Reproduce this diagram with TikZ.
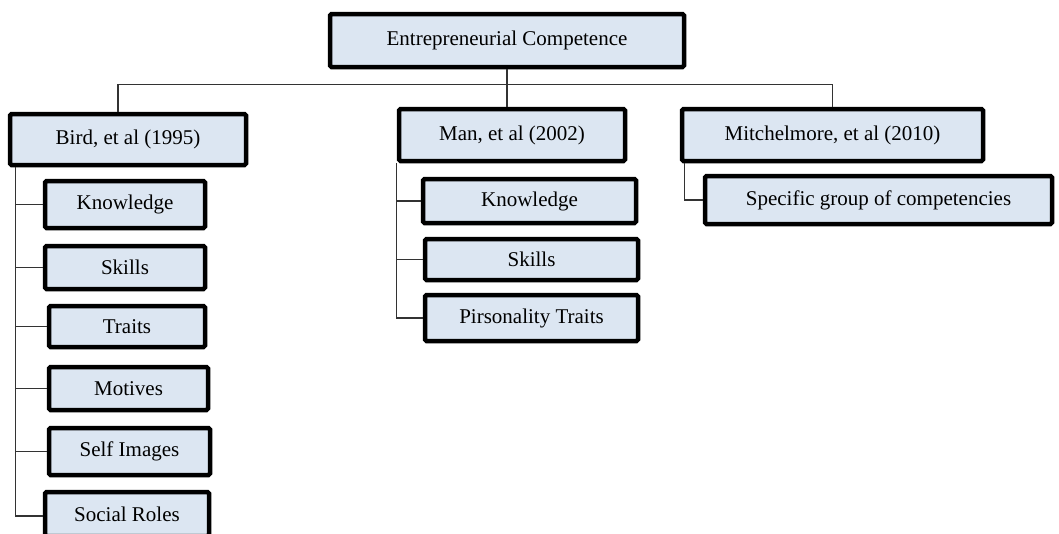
\documentclass[tikz,border=0pt]{standalone}
\usepackage{fontspec}
\setmainfont{Liberation Serif}
\usepackage{xcolor}
\usepackage{tikz}
\usetikzlibrary{positioning, calc}
\definecolor{boxblue}{RGB}{220,230,242}
\tikzstyle{cbox} = [rectangle, draw=black, line width=4.5pt, rounded corners=1.5pt, fill=boxblue, inner sep=0pt, text centered, font=\fontsize{21}{24}\selectfont]
\tikzstyle{link} = [line width=1.3pt, draw=black!80]

\begin{document}
\begin{tikzpicture}[x=1pt, y=-1pt]
        \useasboundingbox (0,0) rectangle (1059,533);
        % top level
        \node (ec) [cbox, minimum width=354pt, minimum height=53pt] at (507,40.5) {Entrepreneurial Competence};

        % authors
        \node (bird) [cbox, minimum width=236pt, minimum height=51pt] at (128,139.5) {Bird, et al (1995)};
        \node (man) [cbox, minimum width=226pt, minimum height=52pt] at (512,135) {Man, et al (2002)};
        \node (mitch) [cbox, minimum width=301pt, minimum height=52pt] at (832.5,135) {Mitchelmore, et al (2010)};

        % Bird
        \node (bknow) [cbox, minimum width=160pt, minimum height=47pt] at (125,204.5) {Knowledge};
        \node (bskill) [cbox, minimum width=160pt, minimum height=43pt] at (125,267.5) {Skills};
        \node (btrait) [cbox, minimum width=156pt, minimum height=41pt] at (127,326.5) {Traits};
        \node (bmotiv) [cbox, minimum width=159pt, minimum height=43pt] at (128.5,388.5) {Motives};
        \node (bself) [cbox, minimum width=161pt, minimum height=47pt] at (129.5,451.5) {Self Images};
        \node (bsocial) [cbox, minimum width=164pt, minimum height=44pt] at (127,514) {Social Roles};

        % Man
        \node (mknow) [cbox, minimum width=213pt, minimum height=44pt] at (529.5,201) {Knowledge};
        \node (mskill) [cbox, minimum width=213pt, minimum height=41pt] at (531.5,259.5) {Skills};
        \node (mpers) [cbox, minimum width=213pt, minimum height=46pt] at (531.5,318) {Pirsonality Traits};

        % Mitchelmore
        \node (spec) [cbox, minimum width=347pt, minimum height=48pt] at (878.5,200) {Specific group of competencies};

        % connectors
        \draw [link] (ec.south) -- (ec.south |- man.north);
        \draw [link] ([xshift=-10pt]bird.north) -- ++(0,-27) -| (mitch.north);

        \draw [link] ([xshift=8pt]bird.south west) |- (bknow.west);
        \draw [link] ([xshift=8pt]bird.south west) |- (bskill.west);
        \draw [link] ([xshift=8pt]bird.south west) |- (btrait.west);
        \draw [link] ([xshift=8pt]bird.south west) |- (bmotiv.west);
        \draw [link] ([xshift=8pt]bird.south west) |- (bself.west);
        \draw [link] ([xshift=8pt]bird.south west) |- ([yshift=-2pt]bsocial.west);

        \draw [link] (man.south west) |- (mknow.west);
        \draw [link] (man.south west) |- (mskill.west);
        \draw [link] (man.south west) |- (mpers.west);

        \draw [link] ([xshift=5pt]mitch.south west) |- (spec.west);
\end{tikzpicture}
\end{document}
